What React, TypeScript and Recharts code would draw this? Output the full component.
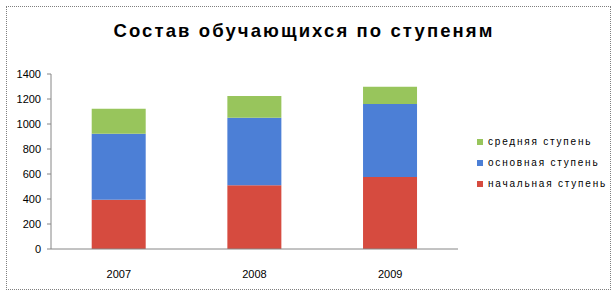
import React from "react";
import { BarChart, Bar, XAxis, YAxis } from "recharts";

const years = ["2007", "2008", "2009"];
const primary = [395, 510, 576];
const basic = [527, 540, 584];
const secondary = [200, 175, 138];
const yTicks = [0, 200, 400, 600, 800, 1000, 1200, 1400];

const seriesNames = {
  primary: "начальная ступень",
  basic: "основная ступень",
  secondary: "средняя ступень",
};
const colors = {
  primary: "#D64B3F",
  basic: "#4C7FD6",
  secondary: "#98C55C",
};

const data = years.map((y, i) => ({
  year: y,
  primary: primary[i],
  basic: basic[i],
  secondary: secondary[i],
}));

const font = "'Liberation Sans', Arial, sans-serif";

const LegendBox = () => {
  const items = [
    ["secondary", seriesNames.secondary, colors.secondary],
    ["basic", seriesNames.basic, colors.basic],
    ["primary", seriesNames.primary, colors.primary],
  ];
  return (
    <div
      style={{
        position: "absolute",
        left: 477,
        top: 131,
        width: 132,
        fontFamily: font,
        fontSize: 10,
        color: "#000",
        whiteSpace: "nowrap",
      }}
    >
      {items.map(([k, name, c]) => (
        <div key={k} style={{ display: "flex", alignItems: "center", height: 21 }}>
          <span style={{ width: 6, height: 6, background: c, display: "inline-block", marginRight: 5, flexShrink: 0 }} />
          <span style={{ letterSpacing: 1.8, whiteSpace: "nowrap" }}>{name}</span>
        </div>
      ))}
    </div>
  );
};

export default function App() {
  return (
    <div style={{ position: "absolute", left: 0, top: 0, width: 615, height: 293, background: "#fff" }}>
      <div
        style={{
          position: "absolute",
          left: 6,
          top: 6,
          width: 603,
          height: 282,
          border: "1px dotted #7f7f7f",
        }}
      />
      <div
        style={{
          position: "absolute",
          left: 0,
          width: 608,
          top: 20,
          textAlign: "center",
          fontFamily: font,
          fontWeight: "bold",
          fontSize: 18.5,
          letterSpacing: 2.1,
          color: "#000",
        }}
      >
        Состав обучающихся по ступеням
      </div>
      <BarChart
        width={615}
        height={293}
        data={data}
        margin={{ top: 74, right: 157, left: 0, bottom: 0 }}
        barCategoryGap="30%"
        style={{ position: "absolute", left: 0, top: 0 }}
      >
        <XAxis
          xAxisId="b"
          type="number"
          domain={[0, 3]}
          ticks={[0, 1, 2, 3]}
          height={0}
          axisLine={false}
          tick={false}
          tickSize={4}
          tickLine={{ stroke: "#868686" }}
          orientation="bottom"
        />
        <XAxis
          dataKey="year"
          height={44}
          tickLine={false}
          axisLine={{ stroke: "#868686" }}
          tickMargin={15}
          tick={{ fontFamily: font, fontSize: 11, fill: "#000" }}
        />
        <YAxis
          width={51}
          domain={[0, 1400]}
          ticks={yTicks}
          interval={0}
          tickSize={4}
          tickMargin={6}
          axisLine={{ stroke: "#868686" }}
          tickLine={{ stroke: "#868686" }}
          tick={{ fontFamily: font, fontSize: 11, fill: "#000" }}
        />
        <Bar dataKey="primary" name={seriesNames.primary} stackId="a" fill={colors.primary} isAnimationActive={false} />
        <Bar dataKey="basic" name={seriesNames.basic} stackId="a" fill={colors.basic} isAnimationActive={false} />
        <Bar dataKey="secondary" name={seriesNames.secondary} stackId="a" fill={colors.secondary} isAnimationActive={false} />
      </BarChart>
      <LegendBox />
    </div>
  );
}
